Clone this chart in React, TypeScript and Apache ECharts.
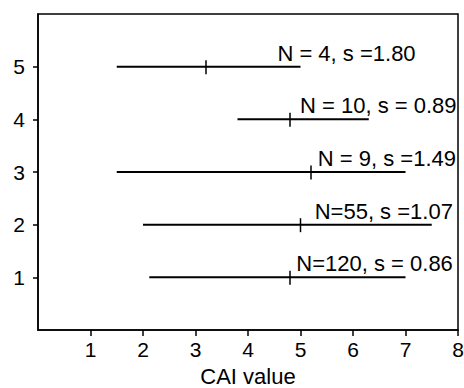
import React, { useEffect, useRef } from "react";
import * as echarts from "echarts";

const categories = [1, 2, 3, 4, 5];
const lows = [2.12, 2.0, 1.5, 3.8, 1.5];
const highs = [7.0, 7.5, 7.0, 6.3, 5.0];
const means = [4.8, 5.0, 5.2, 4.8, 3.2];
const labels = ["N=120, s = 0.86", "N=55, s =1.07", "N = 9, s =1.49", "N = 10, s = 0.89", "N = 4, s =1.80"];
const labelX = [4.92, 5.27, 5.33, 4.99, 4.56];
const xTicks = [1, 2, 3, 4, 5, 6, 7, 8];
const yTicks = [1, 2, 3, 4, 5];

const FONT = "'Liberation Sans', Arial, sans-serif";
const FS = 21;
const FS_TEXT = 22;

export default function App() {
  const ref = useRef<HTMLDivElement>(null);
  useEffect(() => {
    const chart = echarts.init(ref.current!, null, { renderer: "svg" });
    const data = categories.map((c, i) => [c, lows[i], highs[i], means[i], labelX[i]]);
    chart.setOption({
      animation: false,
      grid: {
        left: 38,
        right: 6,
        top: 14,
        bottom: 58,
        show: true,
        borderColor: "#000",
        borderWidth: 1.5,
        backgroundColor: "transparent",
        outerBoundsMode: "none",
        containLabel: false,
      },
      xAxis: {
        type: "value",
        min: 0,
        max: 8,
        interval: 1,
        name: "CAI value",
        nameLocation: "middle",
        nameGap: 35,
        nameTextStyle: { color: "#000", fontSize: FS_TEXT, fontFamily: FONT },
        axisLine: { show: true, lineStyle: { color: "#000", width: 1.5 } },
        axisTick: { show: true, length: 6, customValues: xTicks, lineStyle: { color: "#000", width: 1.5 } },
        axisLabel: { customValues: xTicks, color: "#000", fontSize: FS, fontFamily: FONT, margin: 9 },
        splitLine: { show: false },
      },
      yAxis: {
        type: "value",
        min: 0,
        max: 6,
        interval: 1,
        axisLine: { show: true, lineStyle: { color: "#000", width: 1.5 } },
        axisTick: { show: true, length: 5, customValues: yTicks, lineStyle: { color: "#000", width: 1.5 } },
        axisLabel: { customValues: yTicks, color: "#000", fontSize: FS, fontFamily: FONT, margin: 13 },
        splitLine: { show: false },
      },
      series: [
        {
          type: "custom",
          data,
          encode: { x: [1, 2, 3, 4], y: 0 },
          clip: false,
          renderItem: (params: any, api: any) => {
            const y = api.value(0);
            const p1 = api.coord([api.value(1), y]);
            const p2 = api.coord([api.value(2), y]);
            const pm = api.coord([api.value(3), y]);
            const pl = api.coord([api.value(4), y]);
            return {
              type: "group",
              children: [
                {
                  type: "line",
                  shape: { x1: p1[0], y1: p1[1], x2: p2[0], y2: p2[1] },
                  style: { stroke: "#000", lineWidth: 2 },
                },
                {
                  type: "line",
                  shape: { x1: pm[0], y1: pm[1] - 6.5, x2: pm[0], y2: pm[1] + 7.5 },
                  style: { stroke: "#000", lineWidth: 1.5 },
                },
                {
                  type: "text",
                  x: pl[0],
                  y: pl[1] - 2.5,
                  style: {
                    text: labels[params.dataIndex],
                    fontSize: FS_TEXT,
                    fontFamily: FONT,
                    fill: "#000",
                    align: "left",
                    verticalAlign: "bottom",
                  },
                },
              ],
            };
          },
        },
      ],
    });
    return () => chart.dispose();
  }, []);
  return <div ref={ref} style={{ width: 464, height: 388, position: "absolute", left: 0, top: 0 }} />;
}
